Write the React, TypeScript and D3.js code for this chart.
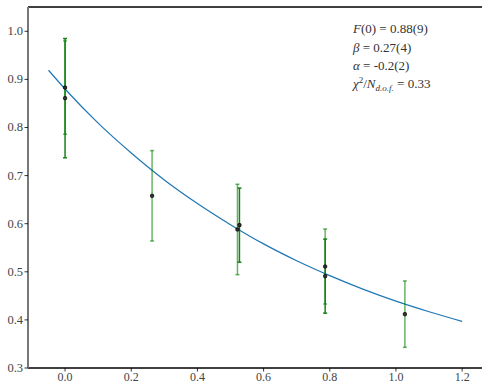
import React from "react";
import * as d3 from "d3";

// Fit curve read at regular x positions
const curveX = [-0.05, 0, 0.1, 0.2, 0.3, 0.4, 0.5, 0.6, 0.7, 0.8, 0.9, 1.0, 1.1, 1.2];
const curveY = [0.919, 0.88, 0.809, 0.747, 0.691, 0.642, 0.598, 0.558, 0.523, 0.492, 0.464, 0.439, 0.417, 0.397];

// Measurements, first ensemble
const darkX = [0, 0.527, 0.786];
const darkY = [0.861, 0.597, 0.491];
const darkErr = [0.124, 0.077, 0.077];

// Measurements, second ensemble
const lightX = [0, 0.263, 0.521, 0.786, 1.027];
const lightY = [0.883, 0.658, 0.588, 0.511, 0.412];
const lightErr = [0.097, 0.094, 0.094, 0.078, 0.069];

const xTicks = [0.0, 0.2, 0.4, 0.6, 0.8, 1.0, 1.2];
const yTicks = [0.3, 0.4, 0.5, 0.6, 0.7, 0.8, 0.9, 1.0];

const W = 482;
const H = 383;
const left = 28;
const top = 7;
const bottom = 368;

const FONT = "'Liberation Serif', 'DejaVu Serif', serif";

export default function App() {
  const x = d3.scaleLinear().domain([-0.112, 1.26]).range([left, W]);
  const y = d3.scaleLinear().domain([0.3, 1.0505]).range([bottom, top]);

  const line = d3
    .line<number>()
    .x((_, i) => x(curveX[i]))
    .y((d) => y(d))
    .curve(d3.curveMonotoneX);

  const bars = (xs: number[], ys: number[], es: number[], color: string, key: string) =>
    xs.map((xv, i) => {
      const cx = x(xv);
      const y0 = y(ys[i] - es[i]);
      const y1 = y(ys[i] + es[i]);
      return (
        <g key={key + i} stroke={color} strokeWidth={1.5}>
          <line x1={cx} x2={cx} y1={y0} y2={y1} />
          <line x1={cx - 2} x2={cx + 2} y1={y0} y2={y0} />
          <line x1={cx - 2} x2={cx + 2} y1={y1} y2={y1} />
        </g>
      );
    });

  const points = (xs: number[], ys: number[], key: string) =>
    xs.map((xv, i) => (
      <rect
        key={key + i}
        x={x(xv) - 1.6}
        y={y(ys[i]) - 1.6}
        width={3.2}
        height={3.2}
        rx={1}
        fill="#333"
        stroke="#000"
        strokeWidth={0.8}
      />
    ));

  return (
    <svg
      width={W}
      height={H}
      style={{ position: "absolute", left: 0, top: 0, background: "#fff", fontFamily: FONT }}
    >
      {/* spines */}
      <line x1={left} x2={W} y1={top} y2={top} stroke="#000" strokeWidth={1.5} />
      <line x1={left} x2={W} y1={bottom} y2={bottom} stroke="#000" strokeWidth={1.5} />
      <line x1={left} x2={left} y1={top} y2={bottom} stroke="#777" strokeWidth={2} />

      {/* y ticks */}
      {yTicks.map((t) => (
        <g key={"y" + t}>
          <line x1={left - 3.5} x2={left} y1={y(t)} y2={y(t)} stroke="#000" strokeWidth={0.8} />
          <text x={left - 5} y={y(t) + 4} textAnchor="end" fontSize={12.5} fill="#444" style={{ fontFamily: FONT }}>
            {t.toFixed(1)}
          </text>
        </g>
      ))}

      {/* x ticks */}
      {xTicks.map((t) => (
        <g key={"x" + t}>
          <line x1={x(t)} x2={x(t)} y1={bottom} y2={bottom + 3.5} stroke="#000" strokeWidth={0.8} />
          <text x={x(t)} y={bottom + 13} textAnchor="middle" fontSize={12} fill="#444" style={{ fontFamily: FONT }}>
            {t.toFixed(1)}
          </text>
        </g>
      ))}

      {/* fit curve */}
      <path d={line(curveY) || ""} fill="none" stroke="#1f77b4" strokeWidth={1.2} />

      {/* error bars */}
      {bars(darkX, darkY, darkErr, "#1a801a", "d")}
      {bars(lightX, lightY, lightErr, "rgba(0,128,0,0.6)", "l")}
      {points(darkX, darkY, "dp")}
      {points(lightX, lightY, "lp")}

      {/* fit results */}
      <g fontSize={13} fill="#333" style={{ fontFamily: FONT }}>
        <text x={353} y={33}>
          <tspan fontStyle="italic">F</tspan>(0) = 0.88(9)
        </text>
        <text x={353} y={51.5}>
          <tspan fontStyle="italic">β</tspan> = 0.27(4)
        </text>
        <text x={353} y={70}>
          <tspan fontStyle="italic">α</tspan> = -0.2(2)
        </text>
        <text x={353} y={88}>
          <tspan fontStyle="italic">χ</tspan>
          <tspan fontSize={9} dy={-5}>2</tspan>
          <tspan dy={5}>/</tspan>
          <tspan fontStyle="italic">N</tspan>
          <tspan fontStyle="italic" fontSize={9} dy={3}>d.o.f.</tspan>
          <tspan dy={-3}> = 0.33</tspan>
        </text>
      </g>
    </svg>
  );
}
